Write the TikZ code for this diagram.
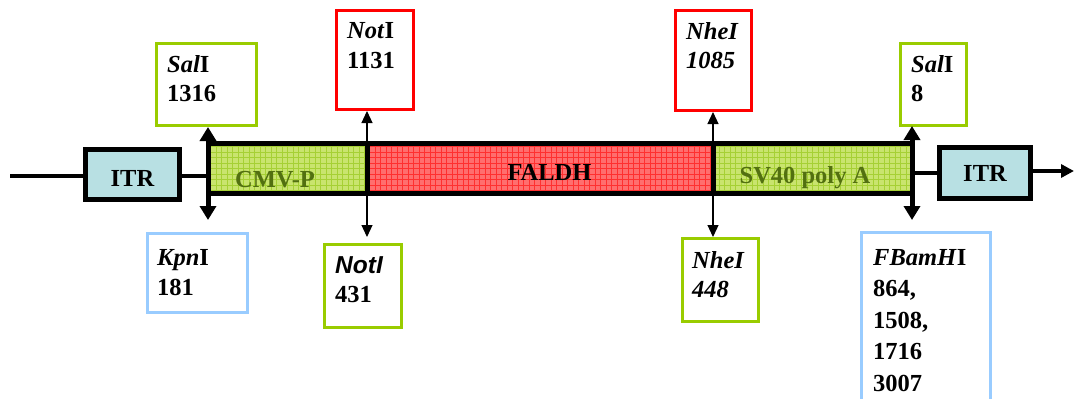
\documentclass[tikz,border=0pt]{standalone}
\usepackage{fontspec}
\setmainfont{Liberation Serif}
\setsansfont{Liberation Sans}
\usetikzlibrary{arrows.meta}
\definecolor{gfill}{HTML}{C9E46E}
\definecolor{ggrid}{HTML}{A6D034}
\definecolor{rfill}{HTML}{FF6E6E}
\definecolor{rgrid}{HTML}{FF3030}
\definecolor{itrfill}{HTML}{B8E0E3}
\definecolor{gbord}{HTML}{99CC00}
\definecolor{rbord}{HTML}{FF0000}
\definecolor{bbord}{HTML}{99CCFF}
\definecolor{cmvtext}{HTML}{527010}
\newcommand\twolines[3]{\vtop{\baselineskip=#1\hbox{#2}\hbox{#3}}}
\tikzset{
  bigfont/.style={font=\fontsize{24.5}{29}\selectfont\bfseries},
  seg/.style={draw, line width=5pt, inner sep=0pt, outer sep=0pt, minimum height=50pt, anchor=north west},
  greenseg/.style={fill=gfill, path picture={\draw[ggrid, line width=0.7pt, step=5.5pt] (path picture bounding box.south west) grid (path picture bounding box.north east);}},
  redseg/.style={fill=rfill, path picture={\draw[rgrid, line width=0.7pt, step=5.5pt] (path picture bounding box.south west) grid (path picture bounding box.north east);}},
  itr/.style={draw, line width=5pt, fill=itrfill, inner sep=0pt, outer sep=0pt, anchor=north west, bigfont},
  sitebox/.style={draw, line width=3pt, inner sep=0pt, outer sep=0pt, anchor=north west},
  lbl/.style={anchor=base west, inner sep=0pt, bigfont},
  segtext/.style={anchor=base, inner sep=0pt, bigfont},
  conn/.style={line width=4pt},
  bigarrow/.style={line width=5pt, {Triangle[width=16pt,length=14pt]}-{Triangle[width=16pt,length=14pt]}},
  thinarrow/.style={line width=1.2pt, {Triangle[width=11pt,length=12pt]}-{Triangle[width=11pt,length=12pt]}},
  endarrow/.style={line width=4pt, -{Triangle[width=13pt,length=13pt]}}
}
\begin{document}
\begin{tikzpicture}[x=1pt,y=-1pt]
\useasboundingbox (0,0) rectangle (1074,399);
\clip (0,0) rectangle (1074,399);
\fill[white] (0,0) rectangle (1074,399);

% ITR boxes
\node[itr, minimum width=94pt, minimum height=50pt, text height=24pt] (itrL) at (85.5,149.5) {ITR};
\node[itr, minimum width=91pt, minimum height=51pt] (itrR) at (939.5,147.5) {ITR};

% backbone connectors
\coordinate (lstart) at (10,176);
\coordinate (rend) at (1074,171);
\draw[conn] (lstart) -- (lstart -| itrL.west);

% bar segments
\node[seg, greenseg, minimum width=159pt] (cmv) at (208,143.5) {};
\node[seg, redseg, minimum width=346pt] (faldh) at (367,143.5) {};
\node[seg, greenseg, minimum width=199pt] (sv40) at (713,143.5) {};
\node[segtext, text=cmvtext] (cmvt) at (275,187) {CMV-P};
\node[segtext] (faldht) at (549.5,180) {FALDH};
\node[segtext, text=cmvtext] (sv40t) at (805,183) {SV40 poly A};

\draw[conn] (lstart -| itrL.east) -- (lstart -| cmv.west);
\draw[conn] (itrR.west -| sv40.east) -- (itrR.west);
\draw[endarrow] (rend -| itrR.east) -- (rend);

% site boxes
\node[sitebox, draw=gbord, minimum width=100pt, minimum height=82pt] (salA) at (156.5,43.5) {};
\node[sitebox, draw=rbord, minimum width=77pt, minimum height=99pt] (notT) at (336.5,10.5) {};
\node[sitebox, draw=rbord, minimum width=76pt, minimum height=100pt] (nheT) at (675.5,10.5) {};
\node[sitebox, draw=gbord, minimum width=66pt, minimum height=82pt] (salB) at (900.5,43.5) {};
\node[sitebox, draw=bbord, minimum width=100pt, minimum height=79pt] (kpn) at (147.5,233.5) {};
\node[sitebox, draw=gbord, minimum width=77pt, minimum height=83pt] (notB) at (324.5,244.5) {};
\node[sitebox, draw=gbord, minimum width=76pt, minimum height=83pt] (nheB) at (682.5,238.5) {};
\node[sitebox, draw=bbord, minimum width=129pt, minimum height=200pt] (fbam) at (861.5,232.5) {};

% labels
\node[lbl] (salAt) at (167,72) {\twolines{29pt}{\textit{Sal}I}{1316}};
\node[lbl] (notTt) at (347,38) {\twolines{30pt}{\textit{Not}I}{1131}};
\node[lbl] (nheTt) at (686,39) {\twolines{29pt}{\textit{NheI}}{\textit{1085}}};
\node[lbl] (salBt) at (911,72) {\twolines{29pt}{\textit{Sal}I}{8}};
\node[lbl] (kpnt) at (157,265) {\twolines{30pt}{\textit{Kpn}I}{181}};
\node[lbl] (notBt) at (335,273) {\twolines{29pt}{\sffamily\itshape NotI}{431}};
\node[lbl] (nheBt) at (692,268) {\twolines{29pt}{\textit{NheI}}{\textit{448}}};
\node[lbl] (fbamt) at (873,265) {\vtop{\baselineskip=31.5pt\hbox{\textit{FBamH}I}\hbox{864,}\hbox{1508,}\hbox{1716}\hbox{3007}}};

% site arrows
\coordinate (aLt) at (208,127);
\coordinate (aLb) at (208,220);
\coordinate (aRt) at (912,126);
\coordinate (aRb) at (912,220);
\coordinate (nTt) at (367,111);
\coordinate (nTb) at (367,237);
\coordinate (hTt) at (713,112);
\coordinate (hTb) at (713,237);
\draw[bigarrow] (aLt) -- (aLb);
\draw[bigarrow] (aRt) -- (aRb);
\draw[thinarrow] (nTt) -- (nTb);
\draw[thinarrow] (hTt) -- (hTb);
\end{tikzpicture}
\end{document}
